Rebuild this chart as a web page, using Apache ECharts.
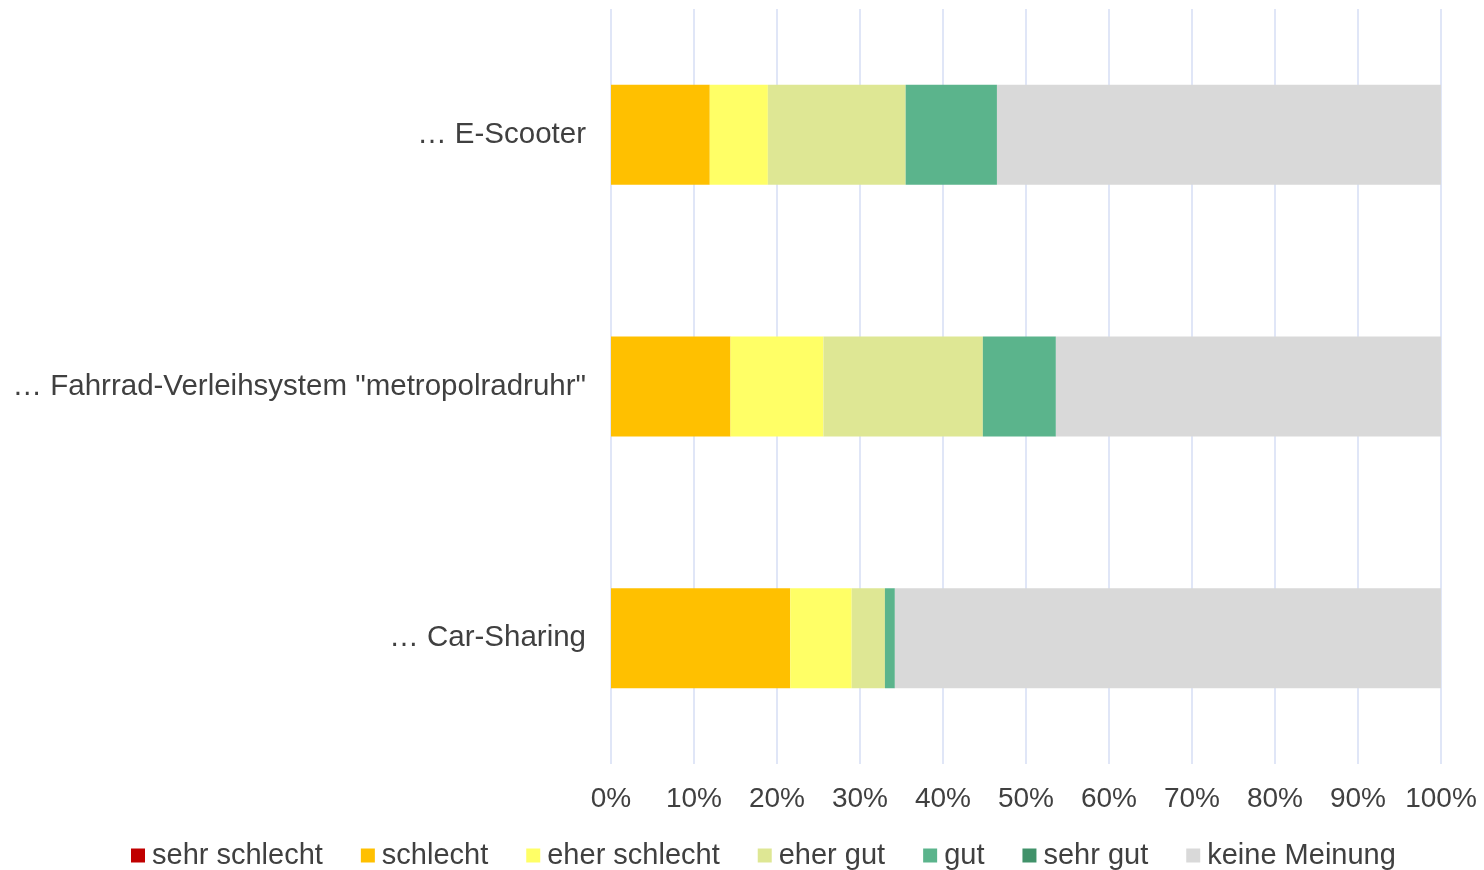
<!DOCTYPE html>
<html>
<head>
<meta charset="utf-8">
<script src="https://cdn.jsdelivr.net/npm/echarts@6/dist/echarts.min.js"></script>
<style>
html,body{margin:0;padding:0;background:#fff;}
#chart{width:1484px;height:870px;}
</style>
</head>
<body>
<div id="chart"></div>
<script>
const categories = ['… E-Scooter', '… Fahrrad-Verleihsystem "metropolradruhr"', '… Car-Sharing'];
const seriesNames = ['sehr schlecht', 'schlecht', 'eher schlecht', 'eher gut', 'gut', 'sehr gut', 'keine Meinung'];
const sehrSchlecht = [0, 0, 0];
const schlecht = [11.9, 14.4, 21.6];
const eherSchlecht = [7.0, 11.2, 7.4];
const eherGut = [16.6, 19.2, 4.0];
const gut = [11.0, 8.8, 1.2];
const sehrGut = [0, 0, 0];
const keineMeinung = [53.5, 46.4, 65.8];
const tickLabels = ['0%', '10%', '20%', '30%', '40%', '50%', '60%', '70%', '80%', '90%', '100%'];
const colors = ['#C00000', '#FFC000', '#FFFF66', '#DEE794', '#5BB48C', '#41926A', '#D9D9D9'];

const values = [sehrSchlecht, schlecht, eherSchlecht, eherGut, gut, sehrGut, keineMeinung];
const font = '"Liberation Sans", Arial, sans-serif';

const chart = echarts.init(document.getElementById('chart'), null, {renderer: 'canvas'});
chart.setOption({
  animation: false,
  color: colors,
  grid: {left: 611, right: 43, top: 9, height: 755, containLabel: false},
  xAxis: {
    type: 'value', min: 0, max: 100, interval: 10,
    axisLine: {show: false}, axisTick: {show: false},
    splitLine: {show: true, lineStyle: {color: '#D6DEF4', width: 1.5}},
    axisLabel: {
      margin: 21, color: '#404040', fontSize: 28, fontFamily: font,
      formatter: v => tickLabels[Math.round(v / 10)]
    }
  },
  yAxis: {
    type: 'category', data: categories, inverse: true,
    axisLine: {show: false}, axisTick: {show: false},
    axisLabel: {margin: 25, color: '#404040', fontSize: 29.5, fontFamily: font}
  },
  legend: {
    left: 126, top: 836, itemWidth: 14, itemHeight: 14, itemGap: 38,
    icon: 'rect',
    textStyle: {color: '#404040', fontSize: 29, fontFamily: font, padding: [0, 0, 0, 2]},
    data: seriesNames
  },
  series: seriesNames.map((name, i) => ({
    name: name, type: 'bar', stack: 'total', barWidth: 100,
    data: values[i],
    itemStyle: {color: colors[i]}
  }))
});
</script>
</body>
</html>
